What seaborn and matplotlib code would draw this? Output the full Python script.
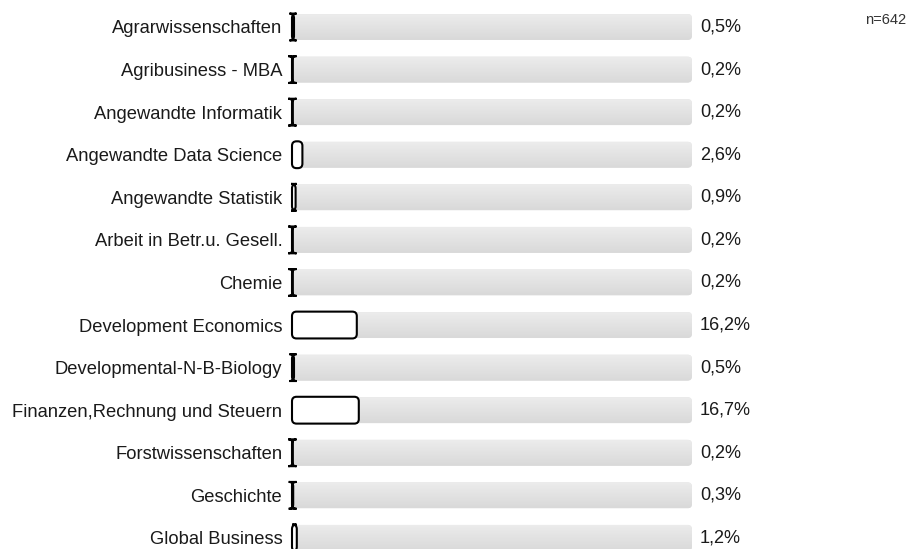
import numpy as np
import pandas as pd
import matplotlib
matplotlib.use("Agg")
import matplotlib.pyplot as plt
import seaborn as sns
from matplotlib.patches import FancyBboxPatch
from matplotlib.colors import LinearSegmentedColormap

categories = ["Agrarwissenschaften", "Agribusiness - MBA", "Angewandte Informatik",
              "Angewandte Data Science", "Angewandte Statistik", "Arbeit in Betr.u. Gesell.",
              "Chemie", "Development Economics", "Developmental-N-B-Biology",
              "Finanzen,Rechnung und Steuern", "Forstwissenschaften", "Geschichte",
              "Global Business"]
percent = [0.5, 0.2, 0.2, 2.6, 0.9, 0.2, 0.2, 16.2, 0.5, 16.7, 0.2, 0.3, 1.2]
n_total = 642

df = pd.DataFrame({"Studiengang": categories, "Anteil": percent, "Max": [100] * len(categories)})

sns.set_theme(style="white")
plt.rcParams['font.family'] = ['Liberation Sans', 'DejaVu Sans']

fig = plt.figure(figsize=(9.12, 5.49), dpi=100)
ax = fig.add_axes([292 / 912, 0, 400 / 912, 1])

# grey tracks then white bars
sns.barplot(data=df, x="Max", y="Studiengang", color="#e2e2e2", width=0.61,
            linewidth=0, ax=ax)
n_track = len(ax.patches)
sns.barplot(data=df, x="Anteil", y="Studiengang", color="white", edgecolor="black",
            linewidth=1.5, width=0.63, ax=ax)

xlim = (0, 100)
ylim = (12.26, -0.634)

# px per data unit, used to round the corners
px_x = 400 / 100
px_y = 42.6
aspect = px_x / px_y
radius = 4.5 / px_x

grad_cmap = LinearSegmentedColormap.from_list("track", ["#ececec", "#d9d9d9"])
grad = np.linspace(0, 1, 64).reshape(-1, 1)

patches = list(ax.patches)
for i, p in enumerate(patches):
    x, y = p.get_x(), p.get_y()
    w, h = p.get_width(), p.get_height()
    is_bar = i >= n_track
    fb = FancyBboxPatch((x, y), w, h,
                        boxstyle=f"round,pad=0,rounding_size={radius}",
                        mutation_aspect=aspect,
                        facecolor=p.get_facecolor(),
                        edgecolor=p.get_edgecolor() if is_bar else "none",
                        linewidth=p.get_linewidth(), zorder=3 if is_bar else 1,
                        clip_on=not is_bar)
    p.remove()
    ax.add_patch(fb)
    if not is_bar:
        im = ax.imshow(grad, cmap=grad_cmap, aspect="auto", extent=[x, x + w, y + h, y],
                       origin="upper", zorder=2, interpolation="bilinear")
        im.set_clip_path(fb)

ax.set_xlim(*xlim)
ax.set_ylim(*ylim)

for i, v in enumerate(percent):
    ax.text(102, i, f"{v:.1f}".replace(".", ",") + "%", va="center", ha="left",
            fontsize=13.1, color="#1a1a1a")

fig.text(886 / 912, 1 - 20 / 549, f"n={n_total}", ha="center", va="center",
         fontsize=10.5, color="#333333")

ax.set_xlabel("")
ax.set_ylabel("")
ax.set_xticks([])
ax.tick_params(axis="y", length=0, pad=7, labelsize=13.2, labelcolor="#1a1a1a")
sns.despine(ax=ax, left=True, bottom=True)

fig.savefig("out.png", dpi=100)
